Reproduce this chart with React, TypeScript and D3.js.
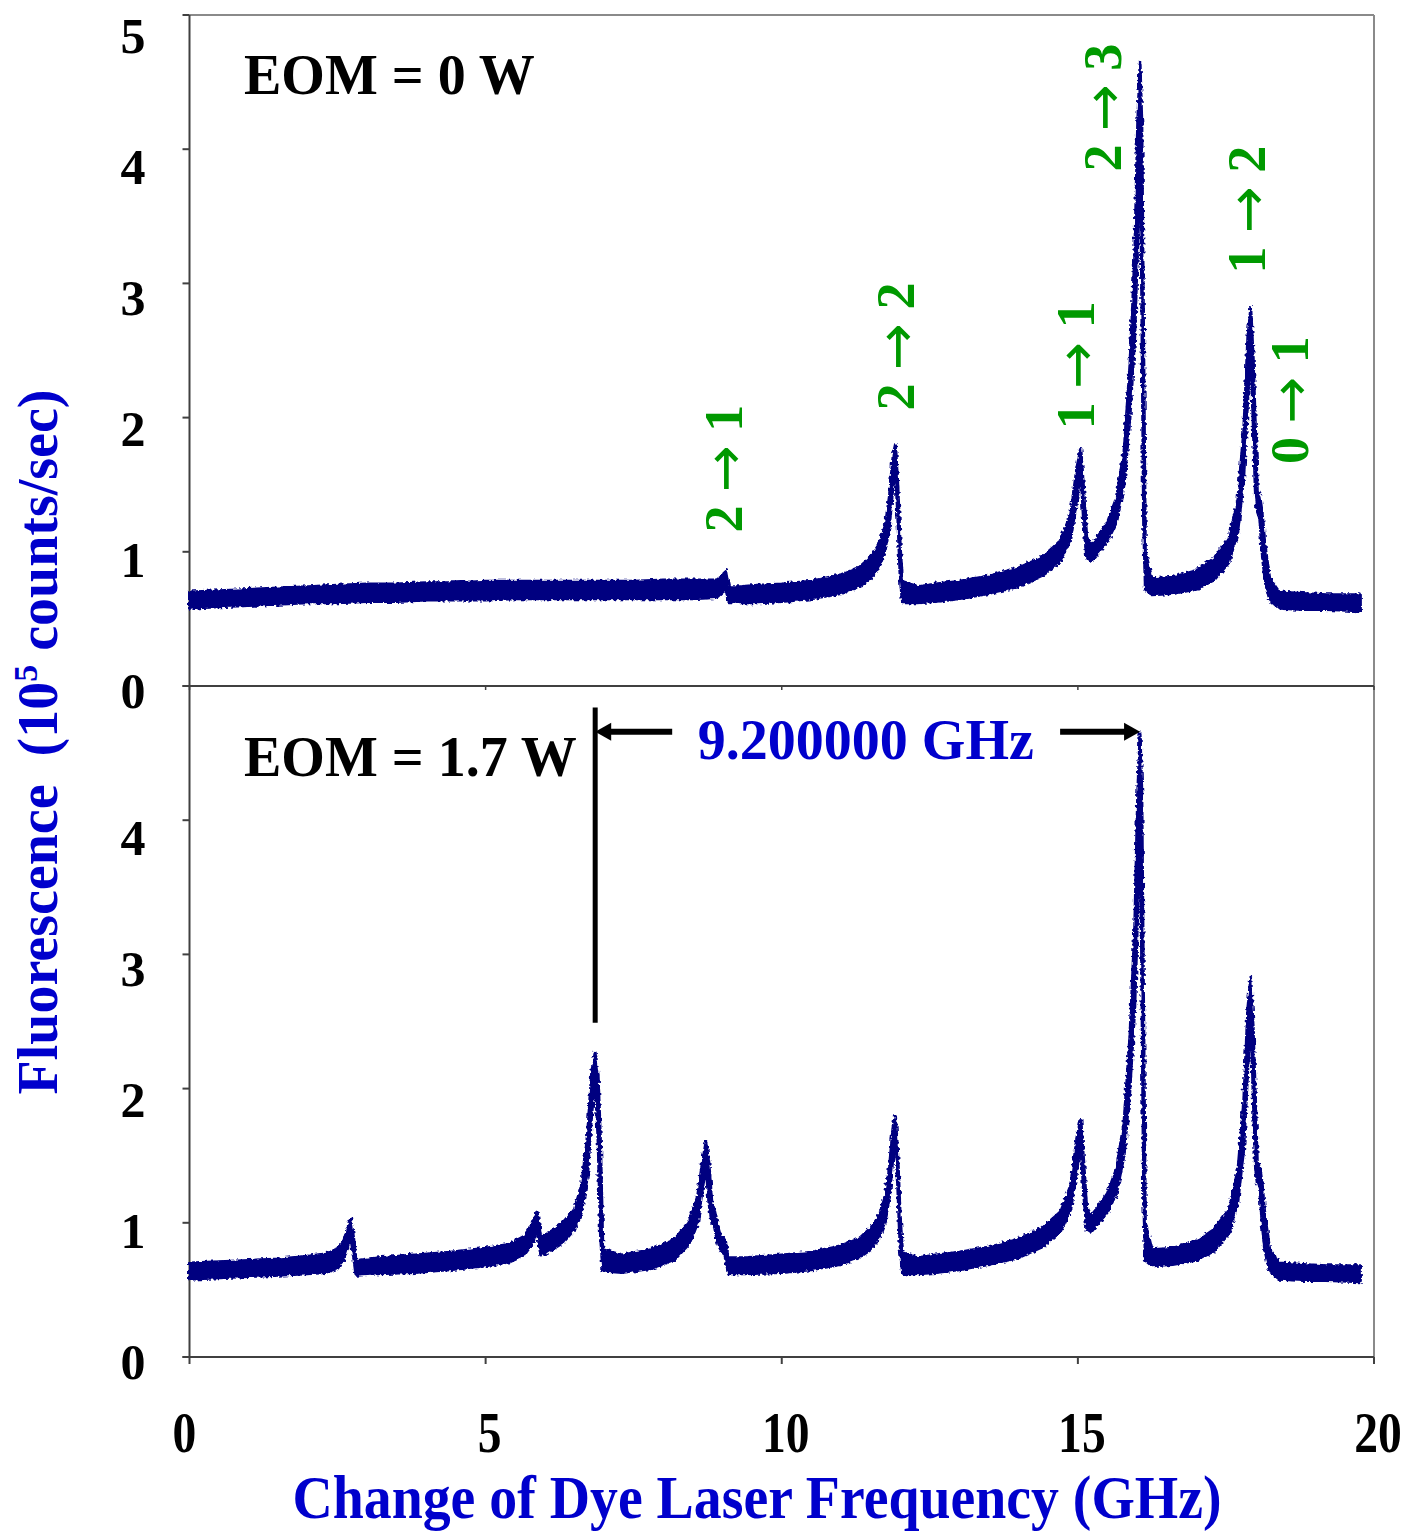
import React from "react";
import * as d3 from "d3";

// ---- data (GHz, 10^5 counts/sec); noise band lower/upper envelopes ----
const topX = [0, 0.5, 1, 1.5, 2, 2.5, 3, 3.5, 4, 4.5, 5, 5.5, 6, 6.5, 7, 7.5, 8, 8.5, 8.9, 9.0, 9.05, 9.1, 9.3, 9.6, 10, 10.5, 11, 11.3, 11.5, 11.65, 11.75, 11.82, 11.88, 11.92, 11.96, 12.0, 12.04, 12.3, 12.6, 13, 13.5, 14, 14.4, 14.7, 14.88, 14.98, 15.05, 15.1, 15.15, 15.22, 15.35, 15.5, 15.65, 15.78, 15.88, 15.96, 16.01, 16.05, 16.08, 16.11, 16.14, 16.25, 16.6, 17.0, 17.3, 17.55, 17.7, 17.8, 17.87, 17.92, 17.96, 18.0, 18.03, 18.07, 18.11, 18.16, 18.24, 18.4, 18.8, 19.2, 19.77];
const topLo = [0.58, 0.59, 0.60, 0.61, 0.62, 0.62, 0.63, 0.63, 0.64, 0.64, 0.64, 0.65, 0.65, 0.65, 0.65, 0.65, 0.65, 0.65, 0.66, 0.70, 0.74, 0.63, 0.62, 0.62, 0.63, 0.65, 0.69, 0.74, 0.80, 0.90, 1.02, 1.2, 1.5, 1.62, 1.25, 0.8, 0.62, 0.62, 0.63, 0.65, 0.69, 0.74, 0.82, 0.93, 1.1, 1.38, 1.6, 1.2, 0.95, 0.93, 1.0, 1.08, 1.22, 1.5, 2.0, 2.6, 3.3, 4.3, 2.8, 1.2, 0.72, 0.68, 0.69, 0.72, 0.79, 0.92, 1.15, 1.55, 2.15, 2.55, 1.95, 1.4, 1.3, 1.25, 1.0, 0.78, 0.64, 0.58, 0.57, 0.57, 0.56];
const topHi = [0.70, 0.71, 0.72, 0.73, 0.74, 0.75, 0.76, 0.76, 0.77, 0.77, 0.78, 0.78, 0.78, 0.78, 0.78, 0.78, 0.79, 0.79, 0.79, 0.82, 0.86, 0.74, 0.74, 0.75, 0.76, 0.78, 0.83, 0.88, 0.96, 1.06, 1.2, 1.42, 1.72, 1.8, 1.5, 1.05, 0.78, 0.74, 0.76, 0.78, 0.82, 0.88, 0.96, 1.08, 1.28, 1.62, 1.77, 1.45, 1.1, 1.05, 1.12, 1.22, 1.4, 1.75, 2.4, 3.2, 4.2, 4.64, 4.2, 2.6, 1.0, 0.8, 0.81, 0.86, 0.95, 1.1, 1.38, 1.9, 2.6, 2.82, 2.45, 1.9, 1.45, 1.42, 1.3, 1.05, 0.8, 0.7, 0.69, 0.68, 0.68];

const botX = [0, 0.5, 1, 1.5, 2, 2.3, 2.5, 2.6, 2.67, 2.72, 2.77, 2.81, 3.2, 3.8, 4.4, 5.0, 5.4, 5.65, 5.8, 5.87, 5.93, 6.05, 6.3, 6.5, 6.62, 6.72, 6.79, 6.85, 6.9, 6.94, 6.98, 7.3, 7.8, 8.2, 8.45, 8.58, 8.66, 8.72, 8.77, 8.82, 8.86, 8.92, 8.97, 9.04, 9.1, 9.4, 10, 10.5, 11, 11.3, 11.5, 11.65, 11.75, 11.82, 11.88, 11.92, 11.96, 12.0, 12.04, 12.3, 12.6, 13, 13.5, 14, 14.4, 14.7, 14.88, 14.98, 15.05, 15.1, 15.15, 15.22, 15.35, 15.5, 15.65, 15.78, 15.88, 15.96, 16.01, 16.05, 16.08, 16.11, 16.14, 16.25, 16.6, 17.0, 17.3, 17.55, 17.7, 17.8, 17.87, 17.92, 17.96, 18.0, 18.03, 18.07, 18.11, 18.16, 18.24, 18.4, 18.8, 19.2, 19.77];
const botLo = [0.58, 0.59, 0.60, 0.61, 0.62, 0.63, 0.66, 0.72, 0.82, 0.9, 0.75, 0.61, 0.62, 0.63, 0.65, 0.68, 0.71, 0.76, 0.85, 0.95, 0.76, 0.78, 0.85, 0.95, 1.08, 1.35, 1.8, 2.1, 1.6, 0.9, 0.64, 0.63, 0.66, 0.73, 0.85, 1.0, 1.25, 1.42, 1.15, 1.0, 0.98, 0.84, 0.8, 0.76, 0.62, 0.62, 0.63, 0.65, 0.69, 0.74, 0.80, 0.90, 1.02, 1.2, 1.5, 1.62, 1.25, 0.8, 0.62, 0.62, 0.63, 0.65, 0.69, 0.74, 0.82, 0.93, 1.1, 1.38, 1.6, 1.2, 0.95, 0.93, 1.0, 1.08, 1.22, 1.5, 2.0, 2.6, 3.3, 4.3, 2.8, 1.2, 0.72, 0.68, 0.69, 0.72, 0.79, 0.92, 1.15, 1.55, 2.15, 2.55, 1.95, 1.4, 1.3, 1.25, 1.0, 0.78, 0.64, 0.58, 0.57, 0.57, 0.56];
const botHi = [0.70, 0.71, 0.72, 0.73, 0.75, 0.77, 0.8, 0.86, 0.96, 1.03, 0.9, 0.72, 0.74, 0.76, 0.78, 0.81, 0.84, 0.9, 1.0, 1.08, 0.9, 0.92, 1.0, 1.1, 1.28, 1.65, 2.12, 2.27, 2.1, 1.6, 0.8, 0.76, 0.8, 0.88, 1.02, 1.2, 1.45, 1.6, 1.45, 1.15, 1.1, 0.98, 0.9, 0.88, 0.74, 0.74, 0.76, 0.78, 0.83, 0.88, 0.96, 1.06, 1.2, 1.42, 1.72, 1.8, 1.5, 1.05, 0.78, 0.74, 0.76, 0.78, 0.82, 0.88, 0.96, 1.08, 1.28, 1.62, 1.77, 1.45, 1.1, 1.05, 1.12, 1.22, 1.4, 1.75, 2.4, 3.2, 4.2, 4.65, 4.2, 2.6, 1.0, 0.8, 0.81, 0.86, 0.95, 1.1, 1.38, 1.9, 2.6, 2.83, 2.45, 1.9, 1.45, 1.42, 1.3, 1.05, 0.8, 0.7, 0.69, 0.68, 0.68];

const xTicks = [0, 5, 10, 15, 20];
const yTicksTop = [0, 1, 2, 3, 4, 5];
const yTicksBot = [0, 1, 2, 3, 4];

// transition labels: [lower level, upper level, x (GHz), y (value) of label centre]
const transLabels: [string, string, number, number][] = [
  ["2", "1", 9.03, 1.62],
  ["2", "2", 11.93, 2.53],
  ["1", "1", 14.96, 2.39],
  ["2", "3", 15.43, 4.31],
  ["1", "2", 17.86, 3.55],
  ["0", "1", 18.59, 2.13],
];
const markerStart = 6.85; // GHz
const markerSpan = 9.2; // GHz

const FONT = "'Liberation Serif', 'Times New Roman', serif";
const NAVY = "#000080";
const GREEN = "#009900";
const BLUE = "#0000CC";

export default function App() {
  const x = d3.scaleLinear().domain([0, 20]).range([189.5, 1374]);
  const yTop = d3.scaleLinear().domain([0, 5]).range([686, 15]);
  const yBot = d3.scaleLinear().domain([0, 5]).range([1357, 686]);

  const mkArea = (xs: number[], lo: number[], hi: number[], y: d3.ScaleLinear<number, number>) =>
    d3
      .area<number>()
      .x((_, i) => x(xs[i]))
      .y0((_, i) => y(lo[i]))
      .y1((_, i) => y(hi[i]))(xs.map((_, i) => i)) || "";

  const topPath = mkArea(topX, topLo, topHi, yTop);
  const botPath = mkArea(botX, botLo, botHi, yBot);

  const axisCol = "#404040";
  const frameCol = "#8a8a8a";

  const arrowY = yBot(4.66);
  const xA = x(markerStart);
  const xB = x(markerStart + markerSpan);

  return (
    <svg width={1414} height={1532} style={{ position: "absolute", left: 0, top: 0, background: "#fff" }} fontFamily={FONT}>
      <defs>
        <filter id="scatter" x="-5%" y="-5%" width="110%" height="110%">
          <feTurbulence type="fractalNoise" baseFrequency="0.35" numOctaves={1} seed={3} result="n" />
          <feDisplacementMap in="SourceGraphic" in2="n" scale={5.5} xChannelSelector="R" yChannelSelector="G" />
        </filter>
      </defs>
      <rect width={1414} height={1532} fill="#fff" />
      {/* frame */}
      <line x1={x(0)} x2={x(20)} y1={yTop(5)} y2={yTop(5)} stroke={frameCol} strokeWidth={2} />
      <line x1={x(20)} x2={x(20)} y1={yTop(5)} y2={yBot(0)} stroke={frameCol} strokeWidth={2} />
      <line x1={x(0)} x2={x(0)} y1={yTop(5)} y2={yBot(0)} stroke={axisCol} strokeWidth={2} />
      <line x1={x(0) - 7} x2={x(20)} y1={yTop(0)} y2={yTop(0)} stroke={axisCol} strokeWidth={2} />
      <line x1={x(0) - 7} x2={x(20)} y1={yBot(0)} y2={yBot(0)} stroke={axisCol} strokeWidth={2} />

      {/* y ticks */}
      {yTicksTop.map((v) => (
        <g key={"tt" + v}>
          <line x1={x(0) - 7} x2={x(0)} y1={yTop(v)} y2={yTop(v)} stroke={axisCol} strokeWidth={2} />
          <text x={133} y={yTop(v) + 5 + 3.2 * v} textAnchor="middle" dominantBaseline="central" fontSize={50} fontWeight="bold">
            {v}
          </text>
        </g>
      ))}
      {yTicksBot.map((v) => (
        <g key={"tb" + v}>
          <line x1={x(0) - 7} x2={x(0)} y1={yBot(v)} y2={yBot(v)} stroke={axisCol} strokeWidth={2} />
          <text x={133} y={yBot(v) + 5 + 3.2 * v} textAnchor="middle" dominantBaseline="central" fontSize={50} fontWeight="bold">
            {v}
          </text>
        </g>
      ))}

      {/* x ticks */}
      {xTicks.map((t) => (
        <g key={"x" + t}>
          <line x1={x(t)} x2={x(t)} y1={yBot(0)} y2={yBot(0) + 7} stroke={axisCol} strokeWidth={2} />
          <line x1={x(t)} x2={x(t)} y1={yTop(0)} y2={yTop(0) + 4} stroke={axisCol} strokeWidth={1.5} />
          <text transform={`translate(${x(t) + (t === 0 ? -5 : 4)},${1432}) scale(0.82,1)`} textAnchor="middle" dominantBaseline="central" fontSize={58} fontWeight="bold">
            {t}
          </text>
        </g>
      ))}

      {/* data */}
      <g filter="url(#scatter)">
        <path d={topPath} fill={NAVY} stroke={NAVY} strokeWidth={3} strokeLinejoin="round" />
        <path d={botPath} fill={NAVY} stroke={NAVY} strokeWidth={3} strokeLinejoin="round" />
      </g>

      {/* panel labels */}
      <text x={x(0.92)} y={yTop(4.55)} dominantBaseline="central" fontSize={56} fontWeight="bold">
        EOM = 0 W
      </text>
      <text x={x(0.92)} y={yBot(4.47)} dominantBaseline="central" fontSize={56} fontWeight="bold">
        EOM = 1.7 W
      </text>

      {/* transition labels */}
      {transLabels.map(([a, b, gx, gy]) => (
        <text
          key={a + b}
          transform={`translate(${x(gx)},${yTop(gy)}) rotate(-90)`}
          textAnchor="middle"
          dominantBaseline="central"
          fontSize={54}
          fontWeight="bold"
          fill={GREEN}
        >
          {a + "\u00A0"}
          <tspan fontFamily="'DejaVu Sans', sans-serif" fontWeight="normal" fontSize={56}>{"\u2192"}</tspan>
          {"\u00A0" + b}
        </text>
      ))}

      {/* 9.2 GHz marker */}
      <line x1={xA} x2={xA} y1={yBot(4.84)} y2={yBot(2.49)} stroke="#000" strokeWidth={5} />
      <line x1={xA + 12} x2={x(8.15)} y1={arrowY} y2={arrowY} stroke="#000" strokeWidth={6} />
      <path d={`M${xA},${arrowY} L${xA + 16},${arrowY - 9} L${xA + 16},${arrowY + 9} Z`} fill="#000" />
      <line x1={x(14.7)} x2={xB - 12} y1={arrowY} y2={arrowY} stroke="#000" strokeWidth={6} />
      <path d={`M${xB},${arrowY} L${xB - 16},${arrowY - 9} L${xB - 16},${arrowY + 9} Z`} fill="#000" />
      <text x={x(11.42)} y={yBot(4.6)} textAnchor="middle" dominantBaseline="central" fontSize={56} fontWeight="bold" fill={BLUE}>
        9.200000 GHz
      </text>

      {/* axis titles */}
      <text x={757} y={1518} textAnchor="middle" fontSize={62} fontWeight="bold" fill={BLUE} textLength={929} lengthAdjust="spacingAndGlyphs">
        Change of Dye Laser Frequency (GHz)
      </text>
      <text transform={`translate(57,742) rotate(-90)`} textAnchor="middle" fontSize={56} fontWeight="bold" fill={BLUE}>
        Fluorescence{"\u00A0\u00A0"}(10
        <tspan fontSize={34} dy={-20}>5</tspan>
        <tspan dy={20}> counts/sec)</tspan>
      </text>
    </svg>
  );
}
